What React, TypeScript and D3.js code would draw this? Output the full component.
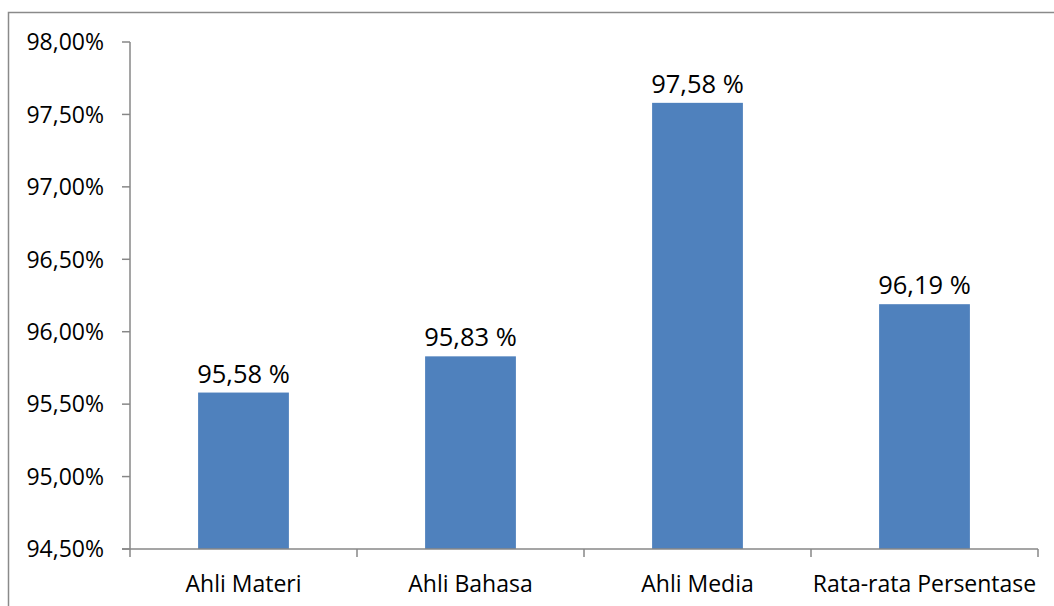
import * as d3 from "d3";

const categories = ["Ahli Materi", "Ahli Bahasa", "Ahli Media", "Rata-rata Persentase"];
const values = [95.58, 95.83, 97.58, 96.19];
const valueLabels = ["95,58 %", "95,83 %", "97,58 %", "96,19 %"];
const yTicks = [94.5, 95, 95.5, 96, 96.5, 97, 97.5, 98];

const W = 1054;
const H = 606;
const left = 130;
const right = 1038;
const top = 42;
const bottom = 549;
const font = "'Open Sans', sans-serif";
const axisColor = "#878787";

export default function App() {
  const x = d3.scaleBand<string>().domain(categories).range([left, right]).paddingInner(0.6).paddingOuter(0.3);
  const y = d3.scaleLinear().domain([94.5, 98]).range([bottom, top]);
  const band = d3.scaleBand<string>().domain(categories).range([left, right]);
  const fmt = (v: number) => v.toFixed(2).replace(".", ",") + "%";

  return (
    <svg
      width={W}
      height={H}
      style={{ position: "absolute", left: 0, top: 0, background: "#fff" }}
      fontFamily={font}
    >
      <rect x={8.5} y={12.5} width={W + 20} height={H + 20} fill="none" stroke="#8a8a8a" strokeWidth={1.5} />
      {values.map((v, i) => (
        <rect
          key={categories[i]}
          x={x(categories[i])}
          y={y(v)}
          width={x.bandwidth()}
          height={bottom - y(v)}
          fill="#4F81BD"
        />
      ))}
      <line x1={left} x2={left} y1={top} y2={bottom + 8} stroke={axisColor} strokeWidth={1.5} />
      <line x1={left - 8} x2={right} y1={bottom} y2={bottom} stroke={axisColor} strokeWidth={1.5} />
      {yTicks.map((t) => (
        <g key={t}>
          <line x1={left - 8} x2={left} y1={y(t)} y2={y(t)} stroke={axisColor} strokeWidth={1.5} />
          <text x={104} y={y(t)} dy="0.36em" textAnchor="end" fontSize={23} fill="#000">
            {fmt(t)}
          </text>
        </g>
      ))}
      {categories.map((c) => (
        <line
          key={c}
          x1={(band(c) as number) + band.bandwidth()}
          x2={(band(c) as number) + band.bandwidth()}
          y1={bottom}
          y2={bottom + 8}
          stroke={axisColor}
          strokeWidth={1.5}
        />
      ))}
      {categories.map((c) => (
        <text
          key={c}
          x={(band(c) as number) + band.bandwidth() / 2}
          y={592}
          textAnchor="middle"
          fontSize={23}
          fill="#000"
        >
          {c}
        </text>
      ))}
      {values.map((v, i) => (
        <text
          key={categories[i]}
          x={(x(categories[i]) as number) + x.bandwidth() / 2}
          y={y(v) - 10}
          textAnchor="middle"
          fontSize={25.5}
          fill="#000"
        >
          {valueLabels[i]}
        </text>
      ))}
    </svg>
  );
}
